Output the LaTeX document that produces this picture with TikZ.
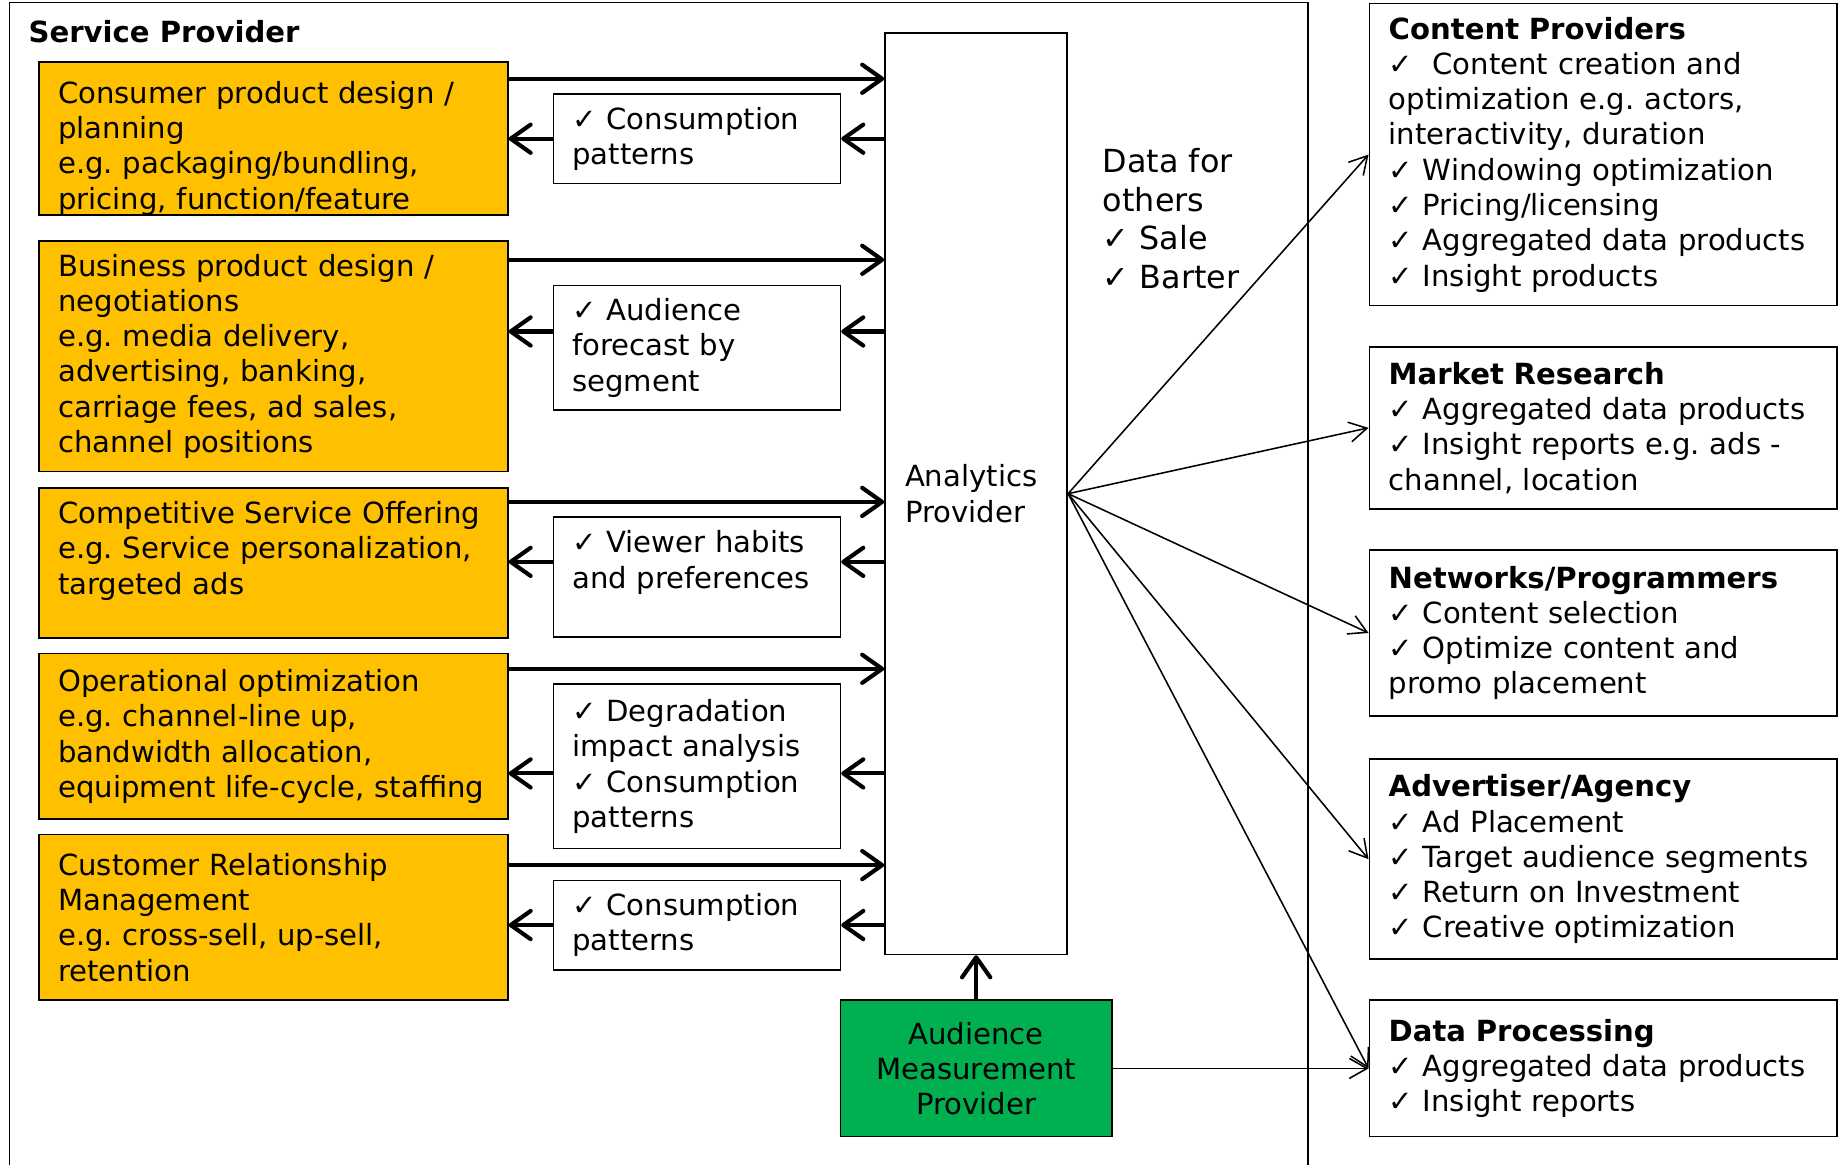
\documentclass[tikz,border=0pt]{standalone}
\usepackage{fontspec}
\setmainfont{DejaVu Sans}
\usetikzlibrary{arrows.meta}
\definecolor{spOrange}{HTML}{FFC000}
\definecolor{amGreen}{HTML}{00B050}
\frenchspacing

\begin{document}
\begin{tikzpicture}[font=\fontsize{14.1}{17.07}\selectfont,
  box/.style={draw,line width=0.8pt,inner ysep=0pt,align=left},
  usecase/.style={box,fill=spOrange,minimum width=7.98cm,text width=7.32cm,inner xsep=0.33cm},
  insight/.style={box,fill=white,minimum width=4.88cm,text width=4.24cm,inner xsep=0.32cm},
  party/.style={box,minimum width=7.96cm,text width=7.30cm,inner xsep=0.33cm},
  bigarrow/.style={-{Straight Barb[length=0.34cm,width=0.48cm,round]},line width=2pt},
  feed/.style={-{Straight Barb[length=0.3cm,width=0.34cm]},line width=0.75pt}]
  \useasboundingbox (0,0) rectangle (31.36,-19.82);
  \draw[line width=0.8pt] (0.16,-20.5) |- (22.26,-0.04) -- (22.26,-20.5);
  \node[anchor=west,inner sep=0pt,font=\fontsize{14.1}{17.07}\selectfont\bfseries] (sp) at (0.48,-0.54) {Service Provider};

  \node[usecase,minimum height=2.56cm] (o1) at (4.65,-2.36) {\mbox{}\\[0.1cm]Consumer product design /\\planning\\e.g. packaging/bundling,\\pricing, function/feature};
  \node[usecase,minimum height=3.92cm] (o2) at (4.65,-6.06) {Business product design /\\negotiations\\e.g. media delivery,\\advertising, banking,\\carriage fees, ad sales,\\channel positions};
  \node[usecase,minimum height=2.56cm] (o3) at (4.65,-9.58) {Competitive Service Offering\\e.g. Service personalization,\\targeted ads\\[-0.08cm]\mbox{}};
  \node[usecase,minimum height=2.82cm] (o4) at (4.65,-12.53) {Operational optimization\\e.g. channel-line up,\\bandwidth allocation,\\equipment life-cycle, staffing};
  \node[usecase,minimum height=2.82cm] (o5) at (4.65,-15.61) {Customer Relationship\\Management\\e.g. cross-sell, up-sell,\\retention};

  \node[insight,minimum height=1.52cm] (w1) at (11.86,-2.36) {✓ Consumption\\patterns};
  \node[insight,minimum height=2.12cm] (w2) at (11.86,-5.92) {✓ Audience\\forecast by\\segment};
  \node[insight,minimum height=2.04cm] (w3) at (11.86,-9.82) {✓ Viewer habits\\and preferences\\\mbox{}};
  \node[insight,minimum height=2.80cm] (w4) at (11.86,-13.04) {✓ Degradation\\impact analysis\\✓ Consumption\\patterns};
  \node[insight,minimum height=1.52cm] (w5) at (11.86,-15.74) {✓ Consumption\\patterns};

  \node[box,minimum width=3.10cm,minimum height=15.68cm,text width=2.42cm,inner xsep=0.34cm] (an) at (16.61,-8.40) {Analytics\\Provider};
  \node[box,fill=amGreen,align=center,minimum width=4.62cm,minimum height=2.32cm] (am) at (16.61,-18.18) {Audience\\Measurement\\Provider};
  \node[anchor=west,inner sep=0pt,align=left,font=\fontsize{15.4}{18.8}\selectfont] (others) at (18.76,-3.72) {Data for\\others\\✓ Sale\\✓ Barter};

  \node[party,minimum height=5.14cm] (cp) at (27.28,-2.63) {\textbf{Content Providers}\\✓\ \ Content creation and\\optimization e.g. actors,\\interactivity, duration\\✓ Windowing optimization\\✓ Pricing/licensing\\✓ Aggregated data products\\✓ Insight products};
  \node[party,minimum height=2.76cm] (mr) at (27.28,-7.28) {\textbf{Market Research}\\✓ Aggregated data products\\✓ Insight reports e.g. ads -\\channel, location};
  \node[party,minimum height=2.82cm] (np) at (27.28,-10.77) {\textbf{Networks/Programmers}\\✓ Content selection\\✓ Optimize content and\\promo placement};
  \node[party,minimum height=3.40cm] (aa) at (27.28,-14.62) {\textbf{Advertiser/Agency}\\✓ Ad Placement\\✓ Target audience segments\\✓ Return on Investment\\✓ Creative optimization};
  \node[party,minimum height=2.32cm] (dp) at (27.28,-18.18) {\textbf{Data Processing}\\✓ Aggregated data products\\✓ Insight reports};

  \coordinate (up1) at (0,-1.34);
  \coordinate (up2) at (0,-4.42);
  \coordinate (up3) at (0,-8.54);
  \coordinate (up4) at (0,-11.38);
  \coordinate (up5) at (0,-14.72);
  \coordinate (back1) at (0,-2.36);
  \coordinate (back2) at (0,-5.64);
  \coordinate (back3) at (0,-9.56);
  \coordinate (back4) at (0,-13.16);
  \coordinate (back5) at (0,-15.74);

  \draw[bigarrow] (o1.east |- up1) -- (an.west |- up1);
  \draw[bigarrow] (an.west |- back1) -- (w1.east |- back1);
  \draw[bigarrow] (w1.west |- back1) -- (o1.east |- back1);
  \draw[bigarrow] (o2.east |- up2) -- (an.west |- up2);
  \draw[bigarrow] (an.west |- back2) -- (w2.east |- back2);
  \draw[bigarrow] (w2.west |- back2) -- (o2.east |- back2);
  \draw[bigarrow] (o3.east |- up3) -- (an.west |- up3);
  \draw[bigarrow] (an.west |- back3) -- (w3.east |- back3);
  \draw[bigarrow] (w3.west |- back3) -- (o3.east |- back3);
  \draw[bigarrow] (o4.east |- up4) -- (an.west |- up4);
  \draw[bigarrow] (an.west |- back4) -- (w4.east |- back4);
  \draw[bigarrow] (w4.west |- back4) -- (o4.east |- back4);
  \draw[bigarrow] (o5.east |- up5) -- (an.west |- up5);
  \draw[bigarrow] (an.west |- back5) -- (w5.east |- back5);
  \draw[bigarrow] (w5.west |- back5) -- (o5.east |- back5);
  \draw[bigarrow] (am.north) -- (an.south);

  \draw[feed] (an.east) -- (cp.west);
  \draw[feed] (an.east) -- (mr.west);
  \draw[feed] (an.east) -- (np.west);
  \draw[feed] (an.east) -- (aa.west);
  \draw[feed] (an.east) -- (dp.west);
  \draw[feed] (am.east) -- (dp.west);
\end{tikzpicture}
\end{document}
